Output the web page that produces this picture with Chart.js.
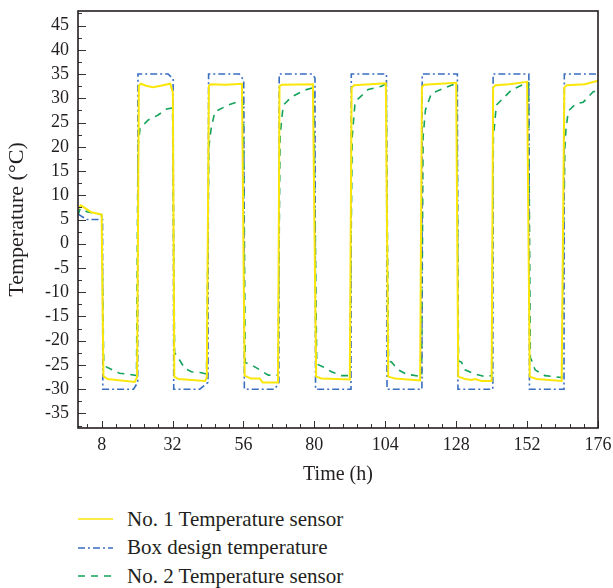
<!DOCTYPE html>
<html>
<head>
<meta charset="utf-8">
<script src="https://cdn.jsdelivr.net/npm/chart.js@4.4.0/dist/chart.umd.min.js"></script>
<style>
  body { margin: 0; background: #fff; }
  #wrap { position: relative; width: 613px; height: 588px; }
  #legend { position: absolute; left: 78px; top: 505px; font-family: "Liberation Serif", "Times New Roman", serif; font-size: 21px; color: #231f20; }
  #legend .item { height: 28.5px; display: flex; align-items: center; }
  #legend svg { margin-right: 14px; }
</style>
</head>
<body>
<div id="wrap">
  <canvas id="tempChart" width="613" height="495"></canvas>
  <div id="legend"></div>
</div>
<script>
// axis ticks
const xTicks = [8, 32, 56, 80, 104, 128, 152, 176];
const yTicks = [-35, -30, -25, -20, -15, -10, -5, 0, 5, 10, 15, 20, 25, 30, 35, 40, 45];

// [time (h), temperature (°C)]
const sensor1 = [
    [0, 7.2], [1, 7.9], [4.5, 6.5], [8, 6.0],
    [8.6, -27.3], [10, -27.9], [19.2, -28.5], [20, -27.5],
    [20.6, 32.6], [21.3, 33.0], [23, 32.6], [25.4, 32.3], [28, 32.6], [31.2, 33.0], [32.1, 31.2],
    [32.6, -27.4], [34, -27.9], [43, -28.3], [43.6, -27.5],
    [44.3, 32.6], [45, 32.9], [50, 32.8], [55.5, 33.0],
    [56.4, -27.2], [58.5, -27.8], [61.5, -27.8], [62.5, -28.6], [67.7, -28.6],
    [68.2, 32.5], [69, 32.8], [79.5, 32.9],
    [80.6, -27.4], [82.4, -27.8], [92, -28.0],
    [92.6, 32.2], [93.5, 32.7], [104.2, 33.1],
    [105, -27.4], [107.3, -27.8], [115.8, -28.2],
    [116.4, 32.3], [117.2, 32.8], [128, 33.2],
    [128.7, -27.4], [131, -27.9], [133.2, -28.1], [134.4, -27.9], [136.6, -28.3], [140, -28.3],
    [140.5, 32.2], [141.3, 32.7], [146, 32.9], [152, 33.4],
    [152.9, -27.4], [155.2, -27.9], [163.7, -28.3],
    [164.6, 32.2], [165.4, 32.7], [171.5, 32.9], [176, 33.6]
];
const designTemp = [
    [0, 6.1], [3, 5.0], [8.3, 5.0],
    [8.4, -30], [18.8, -30], [20.2, -28.6],
    [20.3, 35], [30.5, 35], [32.2, 34],
    [32.4, -30], [41.2, -30], [44, -28.6],
    [44.2, 35], [54.6, 35], [56.1, 33.7],
    [56.3, -30], [66.6, -30], [68, -28.6],
    [68.1, 35], [79.2, 35], [80.2, 34.2],
    [80.4, -30], [92.4, -30],
    [92.5, 35], [104.4, 35],
    [104.6, -30], [116.4, -30],
    [116.5, 35], [128.4, 35],
    [128.6, -30], [140.4, -30],
    [140.5, 35], [152.6, 35],
    [152.8, -30], [164.5, -30],
    [164.6, 35], [176, 35]
];
const sensor2 = [
    [0, 5.8], [0.6, 7.0], [1.3, 7.3], [3, 6.6], [8, 6.0],
    [8.7, -24.2], [9.6, -25.4], [14, -26.7], [17, -26.9], [19.8, -27.2],
    [20.3, 20], [21, 23.8], [23.7, 25.5], [27, 26.5], [30, 27.8], [32, 28.0],
    [32.7, -22.5], [33.9, -23.5], [36.1, -25.7], [38.4, -26.4], [41.8, -26.6], [43.5, -26.9],
    [44.3, 20], [45, 23.5], [46.3, 27.2], [50.8, 28.6], [55.3, 29.5], [56, 29.6],
    [56.6, -24.5], [58.7, -25.0], [61.5, -26.0], [64.4, -27.1], [67.7, -27.1],
    [68.4, 22], [69, 26], [69.5, 28.6], [72.3, 30.3], [76.8, 31.7], [79.8, 32.2],
    [80.8, -24.8], [83, -25.4], [85.8, -26.4], [89.2, -27.2], [92, -27.2],
    [92.8, 22], [93.7, 28.6], [94.3, 29.6], [98.2, 31.8], [102.7, 32.5], [104.3, 33.0],
    [105.1, -24.2], [106.1, -24.4], [108.4, -26.0], [111.2, -26.9], [116.3, -27.4],
    [116.8, 22], [117.6, 27.6], [119.6, 31.0], [126.4, 32.7], [128.2, 33.0],
    [128.8, -24.2], [129.8, -24.4], [131, -26.0], [134.4, -26.9], [137.7, -27.4], [140, -27.2],
    [140.6, 22], [141.6, 28.6], [146.7, 31.7], [151.2, 33.0], [152.5, 33.2],
    [153.1, -23.5], [153.5, -24.0], [154.7, -26.0], [158, -27.2], [163.7, -27.6],
    [164.8, 20], [165.2, 24], [166, 27.4], [168.4, 28.8], [171, 29.2], [174.3, 31.3], [176, 31.7]
];

const toXY = arr => arr.map(p => ({x: p[0], y: p[1]}));
const serif = '"Liberation Serif", "Times New Roman", serif';
const textColor = '#231f20';

// inward major/minor tick marks and the box round the plot
const frameTicks = {
    id: 'frameTicks',
    afterDraw(chart) {
        const {ctx, chartArea: a, scales: {x, y}} = chart;
        ctx.save();
        ctx.strokeStyle = '#333';
        ctx.lineWidth = 1;
        ctx.beginPath();
        for (let i = -2; i <= 40; i++) {
            const v = xTicks[0] + i * 4.8;
            if (v < x.min || v > x.max) continue;
            const px = Math.round(x.getPixelForValue(v)) + 0.5;
            const len = i % 5 === 0 ? 7 : 4;
            ctx.moveTo(px, a.bottom);
            ctx.lineTo(px, a.bottom - len);
        }
        for (let i = -2; i <= 40; i++) {
            const v = yTicks[0] + i * 2.5;
            if (v < y.min || v > y.max) continue;
            const py = Math.round(y.getPixelForValue(v)) + 0.5;
            const len = i % 2 === 0 ? 8 : 4;
            ctx.moveTo(a.left, py);
            ctx.lineTo(a.left + len, py);
        }
        ctx.stroke();
        ctx.strokeStyle = textColor;
        ctx.lineWidth = 1.6;
        ctx.strokeRect(a.left, a.top, a.right - a.left, a.bottom - a.top);
        ctx.restore();
    }
};

const chart = new Chart(document.getElementById('tempChart'), {
    type: 'line',
    data: {
        datasets: [{
            label: 'No. 1 Temperature sensor',
            data: toXY(sensor1),
            borderColor: '#fbe60a',
            borderWidth: 2
        }, {
            label: 'Box design temperature',
            data: toXY(designTemp),
            borderColor: '#3a6ec0',
            borderWidth: 1.6,
            borderDash: [7, 3, 2, 3]
        }, {
            label: 'No. 2 Temperature sensor',
            data: toXY(sensor2),
            borderColor: '#14a35a',
            borderWidth: 1.6,
            borderDash: [7, 6]
        }]
    },
    options: {
        responsive: false,
        animation: false,
        elements: { point: { radius: 0 }, line: { tension: 0, fill: false } },
        layout: { padding: { left: 0, top: 11, right: 15, bottom: 0 } },
        plugins: { legend: { display: false }, tooltip: { enabled: false } },
        scales: {
            x: {
                type: 'linear',
                min: 0,
                max: 176,
                afterBuildTicks: s => { s.ticks = xTicks.map(v => ({value: v})); },
                afterFit: s => { s.height = 67; s.paddingLeft = 0; s.paddingRight = 0; },
                grid: { display: false, drawTicks: false },
                border: { display: false },
                ticks: { padding: 6, color: textColor, font: { family: serif, size: 18 } },
                title: { display: true, text: 'Time (h)', color: textColor, padding: { top: 0, bottom: 8 }, font: { family: serif, size: 20 } }
            },
            y: {
                type: 'linear',
                min: -38,
                max: 48,
                afterBuildTicks: s => { s.ticks = yTicks.map(v => ({value: v})); },
                afterFit: s => { s.width = 78; s.paddingTop = 0; s.paddingBottom = 0; },
                grid: { display: false, drawTicks: false },
                border: { display: false },
                ticks: { padding: 9, color: textColor, font: { family: serif, size: 18 } },
                title: { display: true, text: 'Temperature (°C)', color: textColor, padding: { top: 4, bottom: 0 }, font: { family: serif, size: 22 } }
            }
        }
    },
    plugins: [frameTicks]
});

// legend below the plot, one entry per row
const legendEl = document.getElementById('legend');
chart.data.datasets.forEach(ds => {
    const row = document.createElement('div');
    row.className = 'item';
    const dash = (ds.borderDash || []).join(' ');
    row.innerHTML = `<svg width="35" height="6"><line x1="0" y1="3" x2="35" y2="3" stroke="${ds.borderColor}" stroke-width="1.6" stroke-dasharray="${dash}"/></svg><span>${ds.label}</span>`;
    legendEl.appendChild(row);
});
</script>
</body>
</html>
